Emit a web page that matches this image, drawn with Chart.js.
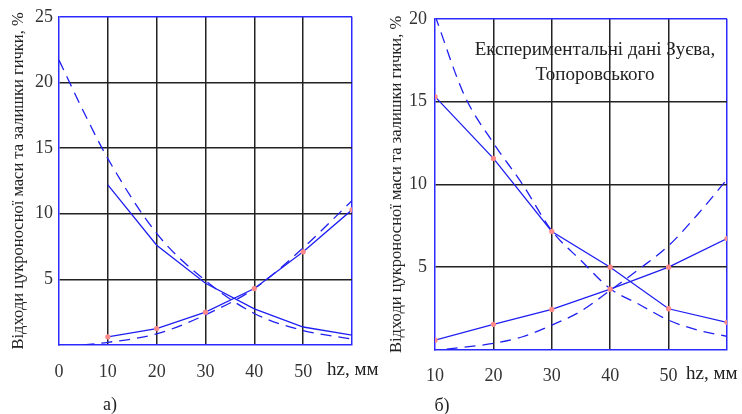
<!DOCTYPE html>
<html lang="uk">
  <head>
    <meta charset="UTF-8" />
    <title>Відходи цукроносної маси та залишки гички</title>
    <style>
      * {
        margin: 0;
        padding: 0;
        box-sizing: border-box;
      }

      body {
        width: 742px;
        height: 414px;
        background: #ffffff;
        position: relative;
        overflow: hidden;
      }

      canvas {
        position: absolute;
        top: 0;
      }

      #chartA {
        left: 0;
      }

      #chartB {
        left: 370px;
      }
    </style>
  </head>
  <body>
    <canvas id="chartA" width="392" height="414"></canvas>
    <canvas id="chartB" width="372" height="414"></canvas>

    <script src="https://cdn.jsdelivr.net/npm/chart.js"></script>
    <script>
      // а) розрахунок
      const aHz = [10, 20, 30, 40, 50, 60];
      const aDownSolid = [12.2, 7.6, 4.7, 2.75, 1.37, 0.75];
      const aUpSolid = [0.62, 1.25, 2.5, 4.3, 7.1, 10.3];
      const aHzDown = [0, 5, 10, 20, 30, 40, 50, 60];
      const aDownDash = [21.7, 17.8, 14.2, 8.5, 4.9, 2.4, 1.1, 0.45];
      const aHzUp = [5, 10, 20, 30, 40, 50, 60];
      const aUpDash = [0, 0.2, 0.85, 2.3, 4.3, 7.4, 11.0];

      // б) експериментальні дані
      const bHz = [10, 20, 30, 40, 50, 60];
      const bDownSolid = [15.3, 11.57, 7.16, 5.0, 2.49, 1.67];
      const bUpSolid = [0.59, 1.55, 2.45, 3.67, 5.0, 6.73];
      const bHzDown = [10, 15, 20, 25, 30, 35, 40, 45, 50, 55, 60];
      const bDownDash = [20.2, 15.4, 12.5, 10.0, 7.2, 5.4, 3.7, 2.75, 1.8, 1.2, 0.82];
      const bHzUp = [12, 20, 25, 30, 35, 40, 45, 50, 55, 60];
      const bUpDash = [0.05, 0.4, 0.8, 1.5, 2.35, 3.6, 4.9, 6.3, 8.2, 10.3];

      const yTitle = "Відходи цукроносної маси та залишки гички, %";
      const xTitle = "hz, мм";

      const serif = "'Liberation Serif', 'Times New Roman', serif";
      const lineBlue = "#1f1ff2";
      const frameBlue = "#2b2bff";
      const gridColor = "#222222";
      const markPink = "#ff8a8a";

      function pts(xs, ys) {
        return xs.map((x, i) => ({ x: x, y: ys[i] }));
      }

      function solid(xs, ys, marks) {
        return {
          data: pts(xs, ys),
          borderColor: lineBlue,
          borderWidth: 1.3,
          tension: 0,
          pointRadius: marks ? 2 : 0,
          pointBackgroundColor: markPink,
          pointBorderColor: markPink,
        };
      }

      function dashed(xs, ys) {
        return {
          data: pts(xs, ys),
          borderColor: lineBlue,
          borderWidth: 1.3,
          borderDash: [11, 7],
          cubicInterpolationMode: "monotone",
          pointRadius: 0,
        };
      }

      // підписи поверх графіка
      const textPlugin = {
        id: "texts",
        afterDraw(chart, args, opts) {
          const c = chart.ctx;
          c.save();
          c.fillStyle = "#222";
          c.textBaseline = "middle";
          (opts.items || []).forEach((t) => {
            c.font = t.size + "px " + serif;
            c.textAlign = t.align || "center";
            c.fillText(t.text, t.x, t.y);
          });
          c.restore();
        },
      };

      function makeChart(id, s) {
        return new Chart(document.getElementById(id), {
          type: "line",
          data: { datasets: s.datasets },
          plugins: [textPlugin],
          options: {
            responsive: false,
            animation: false,
            layout: {
              padding: { left: 0, right: s.padRight, top: s.padTop, bottom: 0 },
            },
            plugins: {
              legend: { display: false },
              tooltip: { enabled: false },
              texts: { items: s.texts },
            },
            scales: {
              x: {
                type: "linear",
                min: s.xMin,
                max: s.xMax,
                afterFit: (sc) => {
                  sc.height = s.xHeight;
                },
                afterBuildTicks: (sc) => {
                  sc.ticks = s.xTicks.map((v) => ({ value: v }));
                },
                ticks: {
                  color: "#333",
                  font: { family: serif, size: 18 },
                  padding: s.xPad,
                  maxRotation: 0,
                  callback: (v) => (v === s.xMax ? "" : v),
                },
                grid: {
                  drawTicks: false,
                  lineWidth: 1.5,
                  color: (ctx) =>
                    ctx.tick.value === s.xMax
                      ? frameBlue
                      : ctx.tick.value === s.xMin
                      ? "rgba(0,0,0,0)"
                      : gridColor,
                },
                border: { color: frameBlue, width: 1.5 },
              },
              y: {
                min: 0,
                max: s.yMax,
                afterFit: (sc) => {
                  sc.width = s.yWidth;
                },
                ticks: {
                  stepSize: 5,
                  color: "#333",
                  font: { family: serif, size: 18 },
                  padding: s.yPad,
                  callback: (v) => (v === 0 ? "" : v),
                },
                grid: {
                  drawTicks: false,
                  lineWidth: 1.5,
                  color: (ctx) =>
                    ctx.tick.value === s.yMax
                      ? frameBlue
                      : ctx.tick.value === 0
                      ? "rgba(0,0,0,0)"
                      : gridColor,
                },
                border: { color: frameBlue, width: 1.5 },
                title: {
                  display: true,
                  text: yTitle,
                  color: "#222",
                  font: { family: serif, size: 16.5 },
                  padding: { top: s.titlePad, bottom: 0 },
                },
              },
            },
          },
        });
      }

      makeChart("chartA", {
        datasets: [
          solid(aHz, aDownSolid, false),
          solid(aHz, aUpSolid, true),
          dashed(aHzDown, aDownDash),
          dashed(aHzUp, aUpDash),
        ],
        xMin: 0,
        xMax: 60,
        xTicks: [0, 10, 20, 30, 40, 50, 60],
        yMax: 25,
        yWidth: 59,
        xHeight: 69,
        padRight: 40,
        padTop: 12,
        xPad: 16,
        yPad: 6,
        titlePad: 9,
        texts: [
          { text: xTitle, x: 327, y: 370, size: 19, align: "left" },
          { text: "а)", x: 110, y: 405, size: 18 },
        ],
      });

      makeChart("chartB", {
        datasets: [
          solid(bHz, bDownSolid, true),
          solid(bHz, bUpSolid, true),
          dashed(bHzDown, bDownDash),
          dashed(bHzUp, bUpDash),
        ],
        xMin: 10,
        xMax: 60,
        xTicks: [10, 20, 30, 40, 50, 60],
        yMax: 20,
        yWidth: 65,
        xHeight: 64,
        padRight: 13,
        padTop: 9,
        xPad: 15,
        yPad: 8,
        titlePad: 17,
        texts: [
          { text: xTitle, x: 316, y: 374, size: 19, align: "left" },
          { text: "б)", x: 72, y: 406, size: 18 },
          { text: "Експериментальні дані Зуєва,", x: 225, y: 50, size: 19 },
          { text: "Топоровського", x: 225, y: 75, size: 19 },
        ],
      });
    </script>
  </body>
</html>
